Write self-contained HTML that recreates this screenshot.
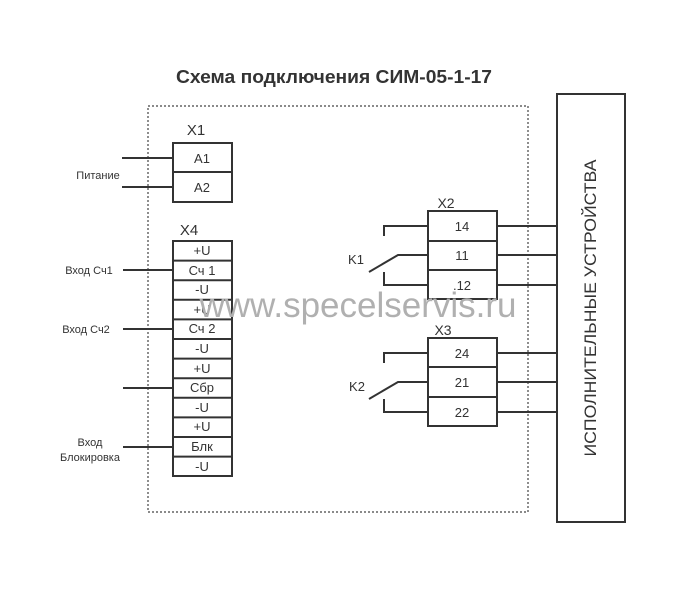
<!DOCTYPE html>
<html><head><meta charset="utf-8"><style>
html,body{margin:0;padding:0;background:#fff;}
svg{display:block;}
text{font-family:"Liberation Sans",sans-serif;fill:#333;}
</style></head><body>
<svg width="686" height="600" viewBox="0 0 686 600" xmlns="http://www.w3.org/2000/svg">
<text x="334" y="83" font-size="18" font-weight="bold" text-anchor="middle" textLength="316" lengthAdjust="spacingAndGlyphs" fill="#333">Схема подключения СИМ-05-1-17</text>
<rect x="148" y="106" width="380" height="406" fill="none" stroke="#444" stroke-width="1.2" stroke-dasharray="2,2"/>
<rect x="557" y="94" width="68" height="428" fill="none" stroke="#333" stroke-width="2"/>
<text transform="translate(596,308) rotate(-90)" font-size="16.5" text-anchor="middle" textLength="297" lengthAdjust="spacingAndGlyphs">ИСПОЛНИТЕЛЬНЫЕ УСТРОЙСТВА</text>
<g stroke="#333" stroke-width="2" fill="none">
<rect x="173" y="143" width="59" height="59"/>
<line x1="173" y1="172" x2="232" y2="172"/>
<line x1="122" y1="158" x2="173" y2="158"/>
<line x1="122" y1="187" x2="173" y2="187"/>
<rect x="173" y="241" width="59" height="235"/>
<line x1="173" y1="260.6" x2="232" y2="260.6"/>
<line x1="173" y1="280.2" x2="232" y2="280.2"/>
<line x1="173" y1="299.8" x2="232" y2="299.8"/>
<line x1="173" y1="319.4" x2="232" y2="319.4"/>
<line x1="173" y1="339" x2="232" y2="339"/>
<line x1="173" y1="358.6" x2="232" y2="358.6"/>
<line x1="173" y1="378.2" x2="232" y2="378.2"/>
<line x1="173" y1="397.8" x2="232" y2="397.8"/>
<line x1="173" y1="417.4" x2="232" y2="417.4"/>
<line x1="173" y1="437" x2="232" y2="437"/>
<line x1="173" y1="456.6" x2="232" y2="456.6"/>
<line x1="123" y1="270" x2="173" y2="270"/>
<line x1="123" y1="329" x2="173" y2="329"/>
<line x1="123" y1="388" x2="173" y2="388"/>
<line x1="123" y1="447" x2="173" y2="447"/>
<rect x="428" y="211" width="69" height="88"/>
<line x1="428" y1="241" x2="497" y2="241"/>
<line x1="428" y1="270" x2="497" y2="270"/>
<line x1="497" y1="226" x2="557" y2="226"/>
<line x1="497" y1="255" x2="557" y2="255"/>
<line x1="497" y1="285" x2="557" y2="285"/>
<polyline points="384,236 384,226 428,226"/>
<polyline points="369,272 398,255 428,255"/>
<polyline points="384,272 384,285 428,285"/>
<rect x="428" y="338" width="69" height="88"/>
<line x1="428" y1="367" x2="497" y2="367"/>
<line x1="428" y1="397" x2="497" y2="397"/>
<line x1="497" y1="353" x2="557" y2="353"/>
<line x1="497" y1="382" x2="557" y2="382"/>
<line x1="497" y1="412" x2="557" y2="412"/>
<polyline points="384,363 384,353 428,353"/>
<polyline points="369,399 398,382 428,382"/>
<polyline points="384,399 384,412 428,412"/>
</g>
<g font-size="13" text-anchor="middle">
<text x="196" y="135" font-size="15">X1</text>
<text x="202" y="163">A1</text>
<text x="202" y="192">A2</text>
<text x="189" y="235" font-size="15">X4</text>
<text x="202" y="255">+U</text>
<text x="202" y="275">Сч 1</text>
<text x="202" y="294">-U</text>
<text x="202" y="314">+U</text>
<text x="202" y="333">Сч 2</text>
<text x="202" y="353">-U</text>
<text x="202" y="373">+U</text>
<text x="202" y="392">Сбр</text>
<text x="202" y="412">-U</text>
<text x="202" y="431">+U</text>
<text x="202" y="451">Блк</text>
<text x="202" y="471">-U</text>
<text x="446" y="208" font-size="14">X2</text>
<text x="462" y="231">14</text>
<text x="462" y="260">11</text>
<text x="462" y="290">.12</text>
<text x="443" y="335" font-size="14">X3</text>
<text x="462" y="358">24</text>
<text x="462" y="387">21</text>
<text x="462" y="417">22</text>
<text x="356" y="264" font-size="13">K1</text>
<text x="357" y="391" font-size="13">K2</text>
</g>
<g font-size="11" text-anchor="middle">
<text x="98" y="179">Питание</text>
<text x="89" y="274">Вход Сч1</text>
<text x="86" y="333">Вход Сч2</text>
<text x="90" y="446">Вход</text>
<text x="90" y="461">Блокировка</text>
</g>
<text x="358" y="317" font-size="35" text-anchor="middle" style="fill:#b0b0b0">www.specelservis.ru</text>
</svg>
</body></html>
